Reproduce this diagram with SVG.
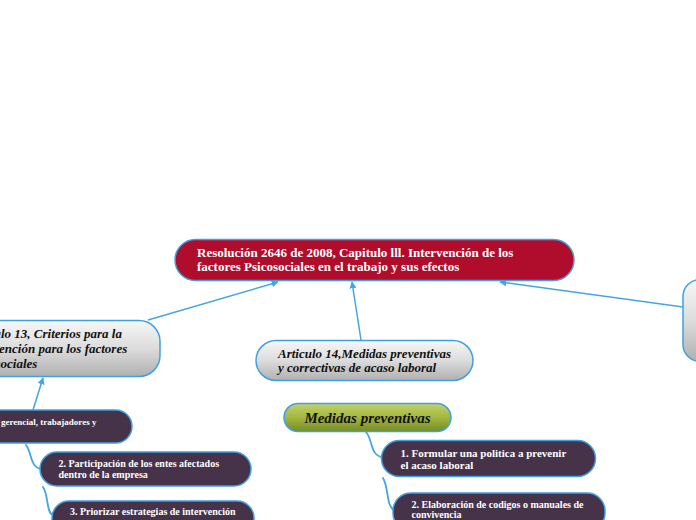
<svg xmlns="http://www.w3.org/2000/svg" width="696" height="520" viewBox="0 0 696 520">
<defs>
<linearGradient id="gGray" x1="0" y1="0" x2="0" y2="1">
<stop offset="0" stop-color="#f7f7f7"/>
<stop offset="0.5" stop-color="#dcdcdc"/>
<stop offset="1" stop-color="#b0b0b0"/>
</linearGradient>
<linearGradient id="gGreen" x1="0" y1="0" x2="0" y2="1">
<stop offset="0" stop-color="#c3d26c"/>
<stop offset="0.5" stop-color="#a3b63f"/>
<stop offset="1" stop-color="#778c22"/>
</linearGradient>
<marker id="arr" viewBox="0 0 10 10" refX="9" refY="5" markerWidth="7" markerHeight="7" markerUnits="userSpaceOnUse" orient="auto">
<path d="M0,0 L10,5 L0,10 z" fill="#45a5e3"/>
</marker>
<style>
.box{stroke:#3fa1e2;stroke-width:1.5}
.red{fill:#b00c2c}
.gray{fill:url(#gGray)}
.green{fill:url(#gGreen)}
.dark{fill:#46334a}
.tw{font-family:"Liberation Serif","Times New Roman",serif;font-weight:bold;fill:#ffffff}
.tb{font-family:"Liberation Serif","Times New Roman",serif;font-weight:bold;font-style:italic;fill:#111111}
.con{fill:none;stroke:#45a5e3;stroke-width:1.5}
.cur{fill:none;stroke:#45a5e3;stroke-width:1.8;stroke-linecap:round}
</style>
</defs>
<rect width="696" height="520" fill="#ffffff"/>
<g id="connectors">
<line class="con" x1="148" y1="320" x2="278" y2="282" marker-end="url(#arr)"/>
<line class="con" x1="361" y1="340" x2="352" y2="282" marker-end="url(#arr)"/>
<line class="con" x1="683" y1="307" x2="500" y2="282" marker-end="url(#arr)"/>
<line class="con" x1="33" y1="410" x2="43" y2="378" marker-end="url(#arr)"/>
<path class="cur" d="M26 445 C32 453 30 467 41 469"/>
<path class="cur" d="M43 487 C49 496 46 513 53 515"/>
<path class="cur" d="M366 432 C373 440 370 455 382 457"/>
<path class="cur" d="M383 478 C389 488 386 506 394 510"/>
</g>
<g id="n-central">
<rect class="box red" x="175" y="239.5" width="399" height="41" rx="20.5"/>
<text class="tw" font-size="13"><tspan x="197" y="256.5">Resolución 2646 de 2008, Capitulo lll. Intervención de los</tspan><tspan x="197" y="271">factores Psicosociales en el trabajo y sus efectos</tspan></text>
</g>
<g id="n-art13">
<rect class="box gray" x="-60" y="320.5" width="220" height="56" rx="21"/>
<text class="tb" font-size="13"><tspan x="-33" y="337.5">Articulo 13, Criterios para la</tspan><tspan x="-32" y="352.5">intervención para los factores</tspan><tspan x="-32" y="367.5">psicosociales</tspan></text>
</g>
<g id="n-right">
<rect class="box gray" x="683" y="279.5" width="60" height="82" rx="17"/>
</g>
<g id="n-art14">
<rect class="box gray" x="256" y="340.5" width="217" height="40" rx="20"/>
<text class="tb" font-size="13"><tspan x="278" y="357.5">Articulo 14,Medidas preventivas</tspan><tspan x="278" y="372">y correctivas de acaso laboral</tspan></text>
</g>
<g id="n-medidas">
<rect class="box green" x="284" y="403.5" width="167" height="28" rx="14"/>
<text class="tb" font-size="15" x="367.5" y="423" text-anchor="middle">Medidas preventivas</text>
</g>
<g id="n-l1">
<rect class="box dark" x="-40" y="410" width="172" height="33" rx="16.5"/>
<text class="tw" font-size="9" x="1" y="424.5">gerencial, trabajadores y</text>
</g>
<g id="n-l2">
<rect class="box dark" x="40" y="452" width="211" height="34" rx="17"/>
<text class="tw" font-size="10"><tspan x="58.5" y="466.5">2. Participación de los entes afectados</tspan><tspan x="58.5" y="478">dentro de la empresa</tspan></text>
</g>
<g id="n-l3">
<rect class="box dark" x="52" y="501" width="202" height="36" rx="17"/>
<text class="tw" font-size="10" x="70" y="515">3. Priorizar estrategias de intervención</text>
</g>
<g id="n-r1">
<rect class="box dark" x="381.5" y="440.5" width="214" height="36" rx="18"/>
<text class="tw" font-size="11"><tspan x="400.5" y="456.5">1. Formular una politica a prevenir</tspan><tspan x="400.5" y="468.5">el acaso laboral</tspan></text>
</g>
<g id="n-r2">
<rect class="box dark" x="393" y="493" width="212" height="38" rx="18"/>
<text class="tw" font-size="10"><tspan x="411.5" y="507.5">2. Elaboración de codigos o manuales de</tspan><tspan x="411.5" y="518">convivencia</tspan></text>
</g>
</svg>
